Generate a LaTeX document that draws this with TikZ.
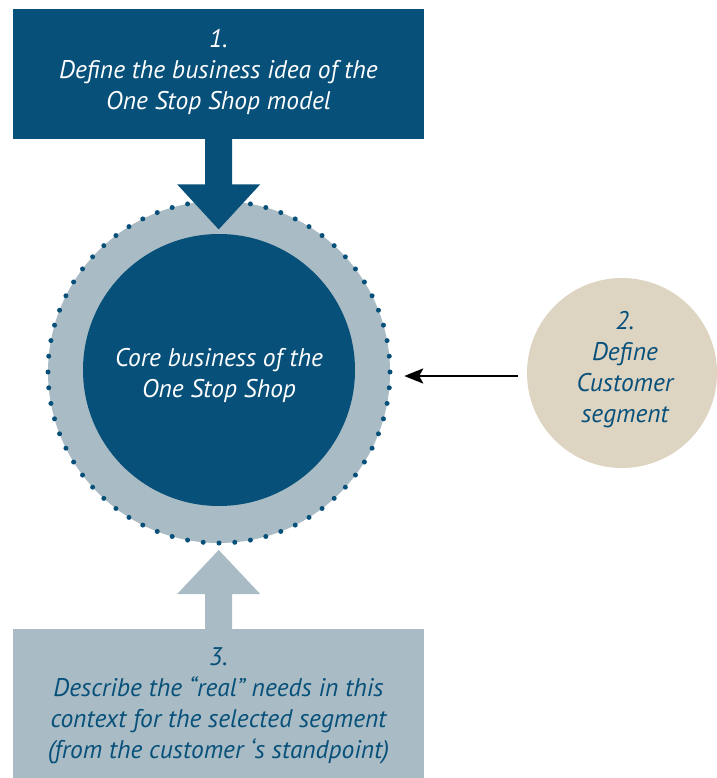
\documentclass[tikz,border=0pt]{standalone}
\usepackage{fontspec}
\setmainfont{PT Sans}
\usetikzlibrary{calc,arrows.meta}
\definecolor{dblue}{HTML}{07507A}
\definecolor{lgray}{HTML}{A9BBC4}
\definecolor{beige}{HTML}{DDD4C2}
\begin{document}
\begin{tikzpicture}[x=1pt,y=-1pt,
  txt/.style={font=\fontsize{25.5}{31}\selectfont\itshape, align=center, inner sep=0pt},
  boxfill/.style={fill=#1, inner sep=0pt, anchor=north west},
  disc/.style={circle, fill=#1, inner sep=0pt}]
\useasboundingbox (0,0) rectangle (716,778);
% boxes
\node[boxfill=dblue, minimum width=411pt, minimum height=130pt] (top) at (13,9) {};
\node[boxfill=lgray, minimum width=411pt, minimum height=160pt] (bot) at (13,629) {};
% central ring
\node[disc=lgray, minimum size=342pt] (ring) at (219,372) {};
\foreach \i in {0,...,67} \fill[dblue] ($(ring.center)+({\i*5.294118}:171)$) circle (2.5);
\node[disc=dblue, minimum size=272pt] (core) at (219,370) {};
% segment circle
\node[disc=beige, minimum size=190pt] (seg) at (622,373) {};
% block arrows
\fill[dblue] ($(top.south)+(-13.5,-1)$) -- ++(0,46) -- ++(-28,0)
  -- ($(top.south)+(0,90)$) -- ($(top.south)+(41.5,45)$) -- ++(-28,0) -- ++(0,-46) -- cycle;
\fill[lgray] ($(bot.north)+(-13.5,1)$) -- ++(0,-36) -- ++(-28,0)
  -- ($(bot.north)+(0,-79)$) -- ($(bot.north)+(41.5,-35)$) -- ++(-28,0) -- ++(0,36) -- cycle;
% black arrow
\coordinate (ay) at (0,376);
\draw[line width=2.8pt, -{Stealth[length=19pt,width=15pt,inset=4pt]}, shorten <=9pt, shorten >=14pt]
  (seg.west |- ay) -- (ring.east |- ay);
% texts
\node[txt, text=white] (t1) at (218.5,72) {1.\\Define the business idea of the\\One Stop Shop model};
\node[txt, text=white] (tc) at (219,375) {Core business of the\\One Stop Shop};
\node[txt, text=dblue] (t2) at (625,370) {2.\\Define\\Customer\\segment};
\node[txt, text=dblue] (t3) at (218.5,706) {3.\\Describe the “real” needs in this\\context for the selected segment\\(from the customer ‘s standpoint)};
\end{tikzpicture}
\end{document}
